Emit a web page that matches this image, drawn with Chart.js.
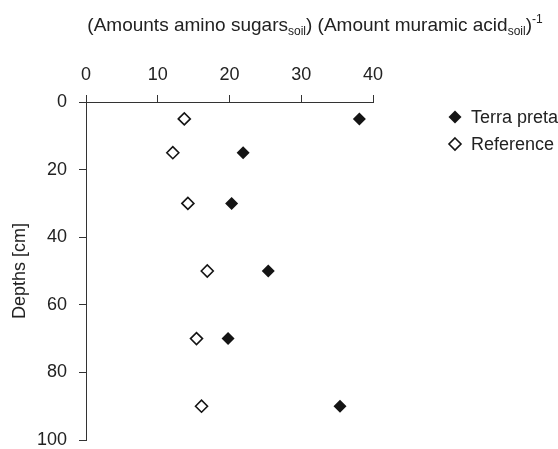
<!DOCTYPE html>
<html>
<head>
<meta charset="utf-8">
<script src="https://cdn.jsdelivr.net/npm/chart.js@4/dist/chart.umd.min.js"></script>
<style>
  html, body { margin: 0; padding: 0; background: #fff; }
</style>
</head>
<body>
<canvas id="c" width="558" height="449"></canvas>
<script>
// Sampling depths (cm) and the amino sugar / muramic acid ratio per soil
const depths = [5, 15, 30, 50, 70, 90];
const terraPreta = [38.1, 21.9, 20.3, 25.4, 19.8, 35.4];
const reference = [13.7, 12.1, 14.2, 16.9, 15.4, 16.1];
const seriesNames = ['Terra preta', 'Reference'];
const xTicks = [0, 10, 20, 30, 40];
const yTicks = [0, 20, 40, 60, 80, 100];

const FONT = "'Liberation Sans', Arial, sans-serif";
const INK = '#222';
const AXIS = '#333';

const toPoints = vals => vals.map((v, i) => ({ x: v, y: depths[i] }));

// Title with subscripts/superscript, drawn above the top axis
const titleParts = [
  { t: '(Amounts amino sugars', k: 'n' },
  { t: 'soil', k: 'sub' },
  { t: ') (Amount muramic acid', k: 'n' },
  { t: 'soil', k: 'sub' },
  { t: ')', k: 'n' },
  { t: '-1', k: 'sup' }
];

const titlePlugin = {
  id: 'richTitle',
  afterDraw(chart) {
    const ctx = chart.ctx;
    const fonts = { n: '19px ' + FONT, sub: '12px ' + FONT, sup: '12px ' + FONT };
    const dy = { n: 0, sub: 4, sup: -8 };
    ctx.save();
    ctx.fillStyle = INK;
    ctx.textBaseline = 'alphabetic';
    ctx.textAlign = 'left';
    let total = 0;
    titleParts.forEach(p => { ctx.font = fonts[p.k]; total += ctx.measureText(p.t).width; });
    let x = 315 - total / 2;
    const base = 31;
    titleParts.forEach(p => {
      ctx.font = fonts[p.k];
      ctx.fillText(p.t, x, base + dy[p.k]);
      x += ctx.measureText(p.t).width;
    });
    ctx.restore();
  }
};

// Legend at the right, markers taken from the datasets' own styles
const legendPlugin = {
  id: 'sideLegend',
  afterDraw(chart) {
    const ctx = chart.ctx;
    const rows = [117, 144];
    const mx = 455;
    ctx.save();
    chart.data.datasets.forEach((ds, i) => {
      const y = rows[i];
      const r = ds.pointRadius;
      ctx.fillStyle = ds.backgroundColor;
      ctx.strokeStyle = ds.borderColor;
      ctx.lineWidth = ds.borderWidth;
      ctx.beginPath();
      ctx.moveTo(mx, y - r);
      ctx.lineTo(mx + r, y);
      ctx.lineTo(mx, y + r);
      ctx.lineTo(mx - r, y);
      ctx.closePath();
      ctx.fill();
      if (ds.borderWidth) ctx.stroke();
      ctx.fillStyle = INK;
      ctx.font = '18px ' + FONT;
      ctx.textBaseline = 'middle';
      ctx.textAlign = 'left';
      ctx.fillText(ds.label, 471, y + 1);
    });
    ctx.restore();
  }
};

new Chart(document.getElementById('c'), {
  type: 'scatter',
  data: {
    datasets: [
      {
        label: seriesNames[0],
        data: toPoints(terraPreta),
        pointStyle: 'rectRot',
        pointRadius: 6.5,
        pointHoverRadius: 6.5,
        backgroundColor: '#141414',
        borderColor: '#141414',
        borderWidth: 0
      },
      {
        label: seriesNames[1],
        data: toPoints(reference),
        pointStyle: 'rectRot',
        pointRadius: 6,
        pointHoverRadius: 6,
        backgroundColor: '#ffffff',
        borderColor: '#141414',
        borderWidth: 1.6
      }
    ]
  },
  options: {
    responsive: false,
    animation: false,
    events: [],
    layout: { padding: { left: 0, top: 40, right: 185, bottom: 9 } },
    plugins: {
      legend: { display: false },
      tooltip: { enabled: false }
    },
    scales: {
      x: {
        type: 'linear',
        position: 'top',
        min: xTicks[0],
        max: xTicks[xTicks.length - 1],
        afterBuildTicks(scale) { scale.ticks = xTicks.map(v => ({ value: v })); },
        afterFit(scale) { scale.height = 62; },
        ticks: { font: { family: FONT, size: 18 }, color: INK, padding: 9 },
        grid: { drawOnChartArea: false, drawTicks: true, tickLength: 7, color: AXIS, lineWidth: 1 },
        border: { display: true, color: AXIS, width: 1 }
      },
      y: {
        type: 'linear',
        reverse: true,
        min: yTicks[0],
        max: yTicks[yTicks.length - 1],
        afterBuildTicks(scale) { scale.ticks = yTicks.map(v => ({ value: v })); },
        afterFit(scale) {
          scale.width = 86;
          // the end labels may overhang the plot; keep the plot full height
          scale.paddingTop = 0;
          scale.paddingBottom = 0;
        },
        ticks: { font: { family: FONT, size: 18 }, color: INK, padding: 12 },
        grid: { drawOnChartArea: false, drawTicks: true, tickLength: 7, color: AXIS, lineWidth: 1 },
        border: { display: true, color: AXIS, width: 1 },
        title: {
          display: true,
          text: 'Depths [cm]',
          font: { family: FONT, size: 18 },
          color: INK,
          padding: { top: 9, bottom: 0 }
        }
      }
    }
  },
  plugins: [titlePlugin, legendPlugin]
});
</script>
</body>
</html>
